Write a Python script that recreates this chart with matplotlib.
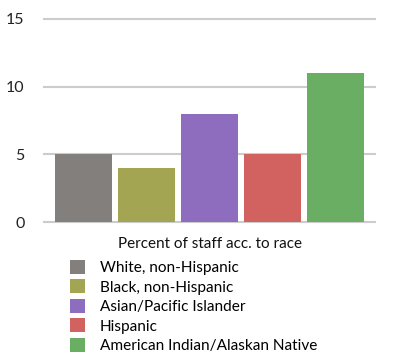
import matplotlib
matplotlib.use("Agg")
import matplotlib.pyplot as plt
import numpy as np

categories = ["White, non-Hispanic", "Black, non-Hispanic", "Asian/Pacific Islander",
              "Hispanic", "American Indian/Alaskan Native"]
values = [5, 4, 8, 5, 11]
colors = ["#827f7c", "#a3a553", "#8e6dbf", "#d2625f", "#6aae63"]
yticks = [0, 5, 10, 15]
xlabel = "Percent of staff acc. to race"

plt.rcParams['font.family'] = ['Lato', 'DejaVu Sans']

fig = plt.figure(figsize=(4.0, 3.64), dpi=100)
ax = fig.add_axes([44/400, 1-222/364, (375-44)/400, (222-19)/364])

x = np.arange(len(categories))
bars = ax.bar(x, values, width=0.905, color=colors, zorder=3,
              edgecolor="none")
ax.set_xlim(-0.635, 4.63)
ax.set_ylim(0, 15)
ax.set_yticks(yticks)
ax.set_yticklabels([str(t) for t in yticks], fontsize=11.5, color="#222222")
ax.tick_params(axis="y", length=0, pad=14)
ax.set_xticks([])
for t in yticks:
    ax.axhline(t, color="#cccccc", linewidth=1.5, zorder=1, clip_on=False)
for s in ax.spines.values():
    s.set_visible(False)
ax.set_xlabel(xlabel, fontsize=11, color="#111111", labelpad=11)

fig.legend(bars, categories, loc="upper left", bbox_to_anchor=(70/400, 1-260/364),
           frameon=False, fontsize=11.1, handlelength=1.0, handleheight=1.0,
           handletextpad=0.95, labelspacing=0.28, borderpad=0, borderaxespad=0)

fig.savefig("out.png", dpi=100)
